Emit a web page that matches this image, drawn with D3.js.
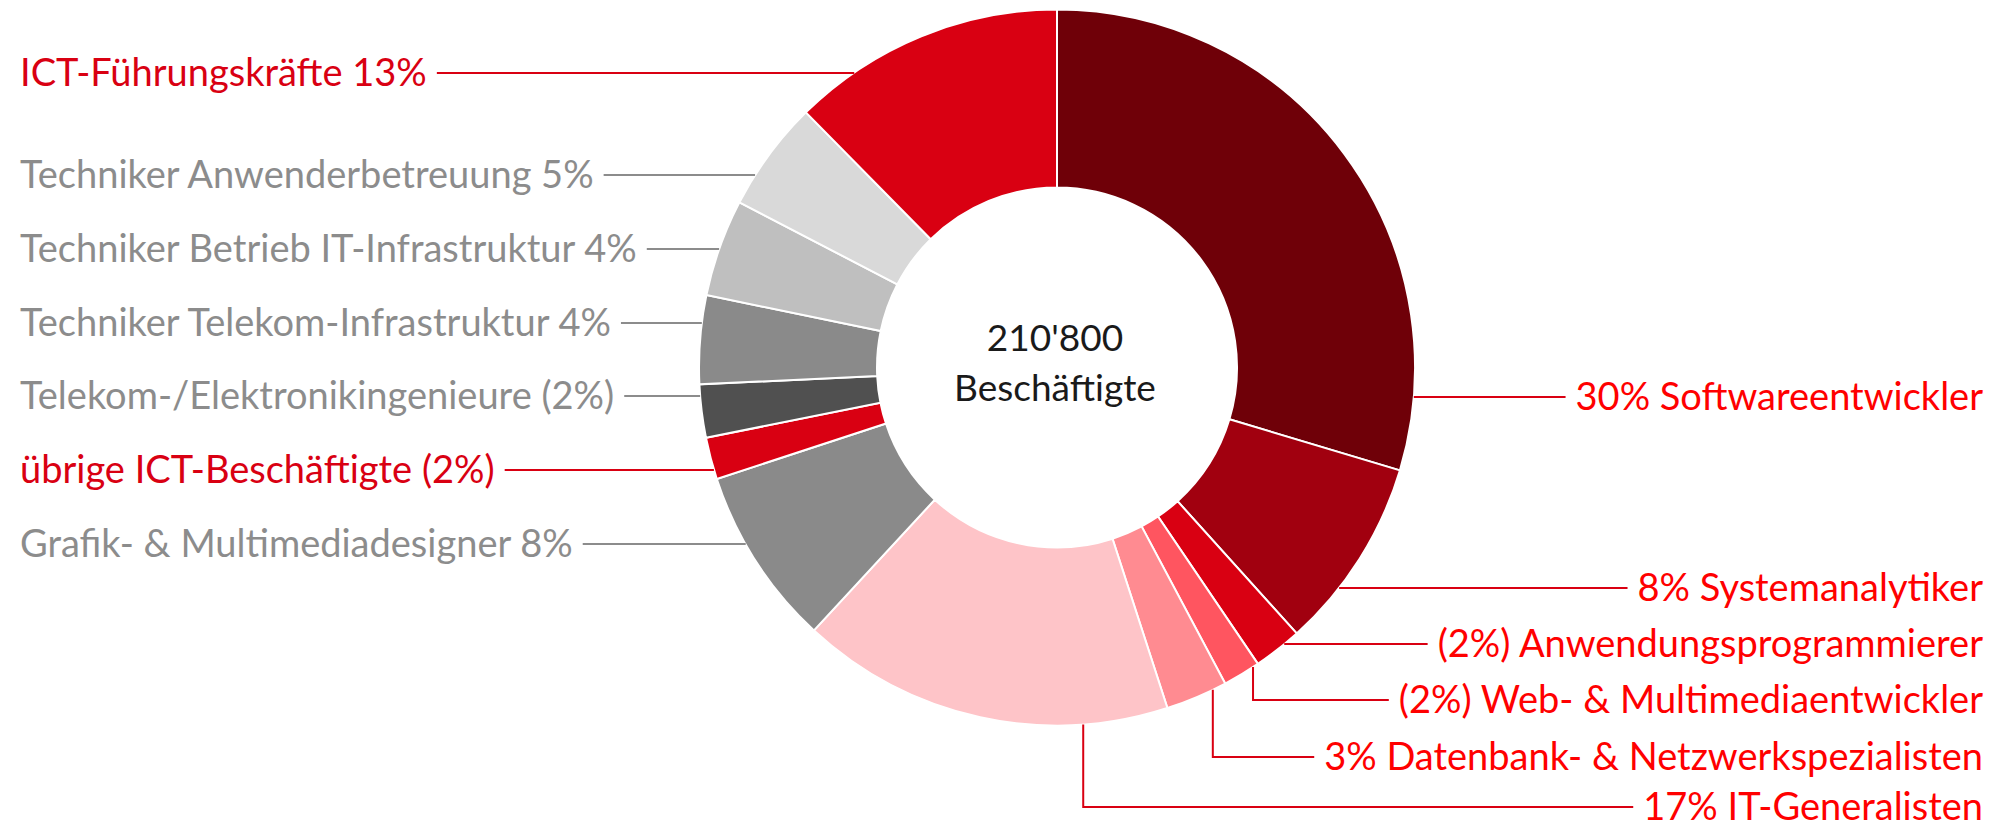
<!DOCTYPE html>
<html>
<head>
<meta charset="utf-8">
<script src="https://cdn.jsdelivr.net/npm/d3@7"></script>
<style>
  body { margin: 0; background: #fff; }
  text { font-family: Lato, "Open Sans", sans-serif; }
</style>
</head>
<body>
<svg id="chart" width="1997" height="829"></svg>
<script>
// categories clockwise from 12 o'clock
const categories = [
    'Softwareentwickler', 'Systemanalytiker', 'Anwendungsprogrammierer',
    'Web- & Multimediaentwickler', 'Datenbank- & Netzwerkspezialisten', 'IT-Generalisten',
    'Grafik- & Multimediadesigner', 'übrige ICT-Beschäftigte', 'Telekom-/Elektronikingenieure',
    'Techniker Telekom-Infrastruktur', 'Techniker Betrieb IT-Infrastruktur',
    'Techniker Anwenderbetreuung', 'ICT-Führungskräfte'
];
// share in percent
const shares = [29.7, 8.7, 2.2, 1.7, 2.8, 16.9, 8.1, 1.9, 2.4, 4.0, 4.4, 5.0, 12.4];
const labels = [
    '30% Softwareentwickler', '8% Systemanalytiker', '(2%) Anwendungsprogrammierer',
    '(2%) Web- & Multimediaentwickler', '3% Datenbank- & Netzwerkspezialisten', '17% IT-Generalisten',
    'Grafik- & Multimediadesigner 8%', 'übrige ICT-Beschäftigte (2%)', 'Telekom-/Elektronikingenieure (2%)',
    'Techniker Telekom-Infrastruktur 4%', 'Techniker Betrieb IT-Infrastruktur 4%',
    'Techniker Anwenderbetreuung 5%', 'ICT-Führungskräfte 13%'
];
const sliceColors = ['#6f0008', '#a1000f', '#d90012', '#ff5560', '#ff8b91', '#fec4c8',
    '#8a8a8a', '#d90012', '#505050', '#8a8a8a', '#bfbfbf', '#d9d9d9', '#d90012'];
const totalText = ["210'800", 'Beschäftigte'];

// label layout: side, row of the label line, angle (deg) where the leader touches the ring, elbow or not
const labelLayout = [
    { side: 'right', y: 397, angle: 94.7 },
    { side: 'right', y: 588, angle: 128 },
    { side: 'right', y: 644, angle: 140.6 },
    { side: 'right', y: 700, angle: 146.8, elbow: true },
    { side: 'right', y: 757, angle: 154.2, elbow: true },
    { side: 'right', y: 807, angle: 175.8, elbow: true },
    { side: 'left', y: 544, angle: 240.4 },
    { side: 'left', y: 470, angle: 253.4 },
    { side: 'left', y: 396, angle: 265.5 },
    { side: 'left', y: 323, angle: 277.2 },
    { side: 'left', y: 249, angle: 289.3 },
    { side: 'left', y: 175, angle: 302.5 },
    { side: 'left', y: 73, angle: 325.5 }
];
const textColors = ['#ff0000', '#ff0000', '#ff0000', '#ff0000', '#ff0000', '#ff0000',
    '#8c8c8c', '#d90012', '#8c8c8c', '#8c8c8c', '#8c8c8c', '#8c8c8c', '#d90012'];

const svg = d3.select('#chart');
const cx = 1057, cy = 367.5;
const outerR = 358, innerR = 180;

const g = svg.append('g').attr('transform', `translate(${cx},${cy})`);

const pie = d3.pie().sort(null).value(d => d);
const arc = d3.arc().innerRadius(innerR).outerRadius(outerR);
const arcs = pie(shares);

g.selectAll('path.slice')
    .data(arcs)
    .enter().append('path')
    .attr('class', 'slice')
    .attr('d', arc)
    .attr('fill', (d, i) => sliceColors[i])
    .attr('stroke', '#fff')
    .attr('stroke-width', 2);

// centre text
g.selectAll('text.total')
    .data(totalText)
    .enter().append('text')
    .attr('class', 'total')
    .attr('x', -2)
    .attr('y', (d, i) => -17 + i * 50)
    .attr('text-anchor', 'middle')
    .style('font-size', '37px')
    .style('fill', '#1a1a1a')
    .text(d => d);

// labels and leader lines
const fontSize = 38;
labels.forEach(function (lab, i) {
    const lay = labelLayout[i];
    const a = lay.angle * Math.PI / 180;
    const px = cx + outerR * Math.sin(a);
    const py = cy - outerR * Math.cos(a);
    const right = lay.side === 'right';
    const lineColor = textColors[i] === '#8c8c8c' ? '#8c8c8c' : '#d90012';

    const t = svg.append('text')
        .attr('x', right ? 1983 : 20)
        .attr('y', lay.y + 13)
        .attr('text-anchor', right ? 'end' : 'start')
        .style('font-size', fontSize + 'px')
        .style('fill', textColors[i])
        .text(lab);
    const w = t.node().getComputedTextLength();
    const gap = 10;
    const tx = right ? 1983 - w - gap : 20 + w + gap;

    let pts;
    if (lay.elbow) {
        pts = [[px, py], [px, lay.y], [tx, lay.y]];
    } else {
        pts = [[px, lay.y], [tx, lay.y]];
    }
    svg.append('path')
        .attr('d', d3.line()(pts))
        .attr('fill', 'none')
        .attr('stroke', lineColor)
        .attr('stroke-width', 2);
});
</script>
</body>
</html>
